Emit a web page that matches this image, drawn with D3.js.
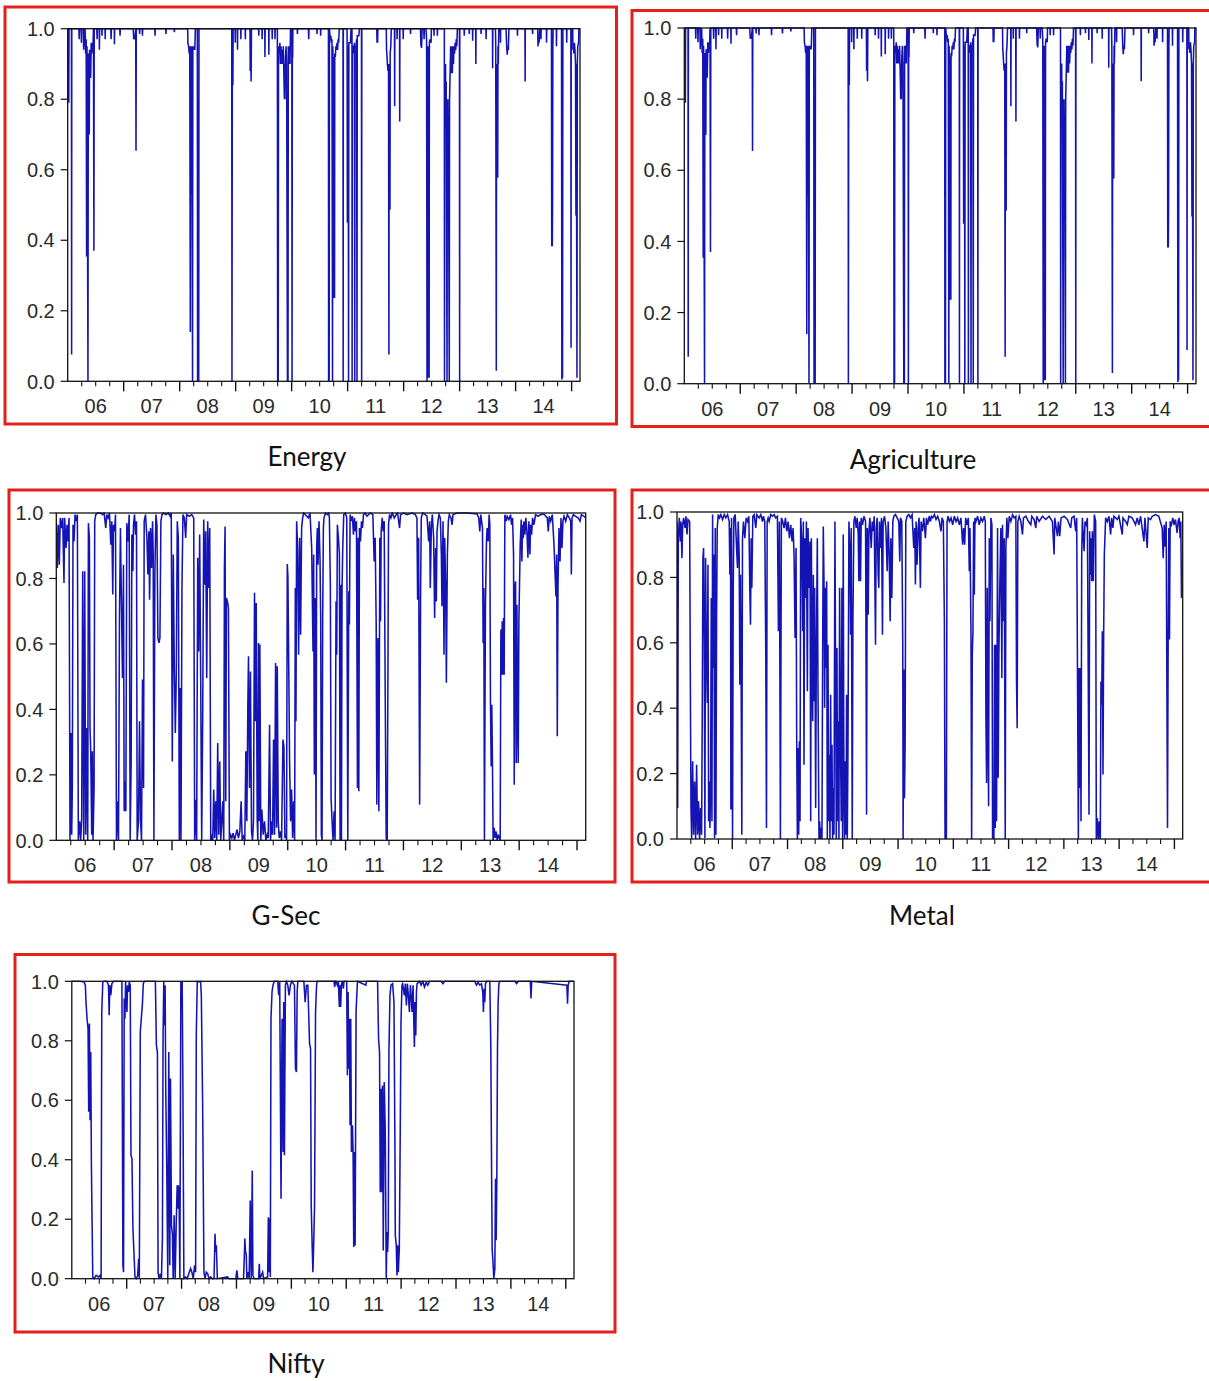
<!DOCTYPE html>
<html><head><meta charset="utf-8">
<script src="https://cdn.jsdelivr.net/npm/d3@7"></script>
<style>body{margin:0;background:#fff}</style>
</head><body><svg id="c" width="1209" height="1381"></svg>
<script>
// ---- data: [decimal year, smoothed probability] ----
const energy = [
[2006.000,1],[2006.010,1],[2006.013,0.79],[2006.016,0.95],[2006.019,0.79],[2006.023,1],
[2006.067,1],[2006.070,0.076],[2006.073,1],
[2006.20,1],[2006.205,0.97],[2006.21,1],[2006.24,1],[2006.245,0.96],[2006.25,1],
[2006.28,1],[2006.285,0.94],[2006.29,1],[2006.30,0.95],[2006.31,1],[2006.32,0.93],[2006.33,0.97],
[2006.338,0.354],[2006.345,0.95],[2006.362,0],[2006.368,0.93],
[2006.376,0.70],[2006.38,0.92],[2006.385,0.70],[2006.39,0.94],
[2006.40,0.86],[2006.405,0.93],[2006.41,0.86],[2006.42,0.96],
[2006.43,0.93],[2006.44,0.96],[2006.45,0.94],[2006.46,1],
[2006.468,0.37],[2006.474,1],[2006.52,1],[2006.525,0.97],[2006.53,1],
[2006.563,1],[2006.566,0.94],[2006.57,1],[2006.61,1],[2006.613,0.98],[2006.616,1],
[2006.667,1],[2006.67,0.97],[2006.673,1],[2006.77,1],[2006.775,0.97],[2006.78,1],
[2006.832,1],[2006.835,0.956],[2006.838,1],[2006.93,1],[2006.935,0.98],[2006.94,1],
[2007.17,1],[2007.18,0.97],[2007.19,0.975],[2007.2,0.97],[2007.215,1],[2007.22,0.654],[2007.225,1],
[2007.28,1],[2007.285,0.985],[2007.29,1],[2007.33,1],[2007.335,0.98],[2007.34,1],
[2007.556,1],[2007.56,0.98],[2007.564,1],[2007.75,1],[2007.755,0.985],[2007.76,1],
[2007.9,1],[2007.905,0.99],[2007.91,1],
[2008.143,1],[2008.147,0.96],[2008.16,0.95],[2008.17,0.93],[2008.18,0.95],
[2008.19,0.14],[2008.195,0.95],[2008.2,0.53],[2008.205,0.9],[2008.21,0.53],[2008.215,0.95],
[2008.23,0],[2008.235,0.95],[2008.25,0.94],[2008.26,0.95],[2008.27,0.94],[2008.28,1],
[2008.315,1],[2008.32,0],[2008.325,0.3],[2008.33,0],[2008.335,0.2],[2008.34,0],[2008.345,1],
[2008.93,1],[2008.934,0],[2008.94,0.84],[2008.945,0.9],[2008.95,0.84],[2008.955,1],
[2008.99,1],[2008.993,0.96],[2008.996,1],[2009.03,1],[2009.033,0.94],[2009.036,1],
[2009.09,1],[2009.093,0.97],[2009.096,1],[2009.17,1],[2009.173,0.97],[2009.176,1],
[2009.256,1],[2009.26,0.88],[2009.265,1],[2009.276,0.85],[2009.282,1],
[2009.41,1],[2009.413,0.98],[2009.416,1],[2009.47,1],[2009.473,0.97],[2009.476,1],
[2009.52,1],[2009.523,0.92],[2009.526,1],[2009.59,1],[2009.593,0.926],[2009.596,1],
[2009.65,1],[2009.653,0.97],[2009.656,1],[2009.70,1],[2009.703,0.97],[2009.706,1],
[2009.745,1],[2009.75,0],[2009.755,0.6],[2009.76,0],[2009.765,0.95],
[2009.78,0.93],[2009.79,0.96],[2009.80,0.9],[2009.81,0.95],[2009.82,0.9],[2009.83,0.94],[2009.84,0.9],[2009.85,0.95],[2009.86,0.88],[2009.87,0.80],[2009.875,0.9],[2009.88,0.80],[2009.89,0.92],[2009.9,0.95],[2009.91,0.9],
[2009.925,0],[2009.93,0.5],[2009.935,0],[2009.94,0.95],[2009.95,0.9],[2009.96,0.95],[2009.97,0.9],[2009.98,1],
[2010.003,1],[2010.007,0],[2010.012,0.92],[2010.018,0.92],[2010.022,1],
[2010.10,1],[2010.103,0.985],[2010.106,1],[2010.30,1],[2010.305,0.97],[2010.31,1],
[2010.45,1],[2010.453,0.985],[2010.456,1],[2010.515,1],[2010.518,0.98],[2010.521,1],
[2010.657,1],[2010.66,0],[2010.665,0.5],[2010.67,0],[2010.675,1],
[2010.69,0.97],[2010.7,0.98],[2010.71,0.96],[2010.72,0.97],
[2010.73,0],[2010.735,0.95],[2010.74,0.9],[2010.75,0.92],[2010.756,0.236],[2010.762,0.92],[2010.766,0.236],[2010.77,0.93],
[2010.78,0.92],[2010.79,0.95],[2010.8,0.94],[2010.81,0.96],[2010.82,0.94],[2010.83,0.97],[2010.84,0.96],[2010.85,1],
[2010.917,1],[2010.92,0],[2010.923,1],
[2010.99,1],[2010.995,0.45],[2011.0,0.9],[2011.005,0.45],[2011.01,0.95],[2011.016,0],[2011.022,0.96],[2011.05,0.96],[2011.06,1],
[2011.077,1],[2011.08,0],[2011.083,0.95],[2011.1,0.95],[2011.11,0.93],[2011.12,0.96],
[2011.127,0],[2011.132,0.95],[2011.15,0.95],[2011.16,0.97],
[2011.167,0],[2011.172,0.98],[2011.2,0.98],[2011.21,1],
[2011.247,1],[2011.25,0],[2011.253,1],
[2011.52,1],[2011.525,0.96],[2011.53,0.97],[2011.535,0.96],[2011.54,1],
[2011.69,1],[2011.695,0.94],[2011.70,0.93],[2011.71,0.90],[2011.72,0.88],[2011.73,0.9],
[2011.737,0.076],[2011.742,0.9],[2011.746,0.487],[2011.752,0.9],[2011.756,0.487],[2011.76,0.93],[2011.77,0.95],[2011.78,1],
[2011.837,1],[2011.84,0.78],[2011.843,1],[2011.88,1],[2011.883,0.97],[2011.886,1],
[2011.927,1],[2011.93,0.737],[2011.933,1],[2011.99,1],[2011.993,0.97],[2011.996,1],
[2012.12,1],[2012.123,0.985],[2012.126,1],
[2012.30,1],[2012.31,0.95],[2012.315,0.97],[2012.32,0.945],[2012.325,0.97],[2012.33,1],
[2012.36,1],[2012.365,0.97],[2012.37,1],
[2012.40,1],[2012.41,0.97],[2012.418,0],[2012.423,0.95],[2012.43,0.01],[2012.435,0.94],[2012.44,0.02],[2012.445,0.95],[2012.455,0.01],[2012.46,0.96],[2012.47,0.97],[2012.49,0.96],[2012.495,1],
[2012.54,1],[2012.543,0.98],[2012.546,1],[2012.60,1],[2012.603,0.98],[2012.606,1],
[2012.727,1],[2012.73,0],[2012.735,0.9],[2012.742,0.747],[2012.748,0.9],[2012.754,0.747],[2012.76,0.85],
[2012.775,0],[2012.78,0.8],[2012.785,0.67],[2012.79,0.8],[2012.795,0.67],[2012.80,0.75],
[2012.815,0],[2012.82,0.8],[2012.83,0.874],[2012.84,0.95],[2012.85,0.874],[2012.86,0.95],[2012.87,0.874],[2012.88,0.95],[2012.89,0.9],[2012.9,0.95],[2012.91,0.93],[2012.92,0.96],[2012.93,0.94],[2012.94,0.97],[2012.95,0.95],[2012.96,1],
[2012.997,1],[2013.0,0],[2013.003,1],
[2013.08,1],[2013.083,0.98],[2013.086,1],[2013.17,1],[2013.173,0.985],[2013.176,1],
[2013.23,1],[2013.233,0.966],[2013.236,1],[2013.287,1],[2013.29,0.9],[2013.293,1],
[2013.38,1],[2013.383,0.985],[2013.386,1],[2013.47,1],[2013.473,0.97],[2013.476,1],
[2013.587,1],[2013.59,0.888],[2013.593,1],
[2013.64,1],[2013.645,0.95],[2013.655,0.03],[2013.66,0.9],[2013.67,0.577],[2013.675,0.9],[2013.68,0.577],[2013.685,0.95],[2013.69,0.9],[2013.7,1],
[2013.727,1],[2013.73,0.96],[2013.733,1],
[2013.83,1],[2013.84,0.95],[2013.85,0.926],[2013.86,0.95],[2013.87,0.94],[2013.88,1],
[2014.03,1],[2014.033,0.98],[2014.036,1],[2014.167,1],[2014.17,0.85],[2014.173,1],
[2014.30,1],[2014.303,0.985],[2014.306,1],
[2014.395,1],[2014.40,0.95],[2014.41,0.97],[2014.42,0.96],[2014.43,1],
[2014.45,1],[2014.453,0.97],[2014.456,1],[2014.55,1],[2014.553,0.96],[2014.556,1],
[2014.64,1],[2014.645,0.383],[2014.65,0.9],[2014.655,0.383],[2014.66,0.5],[2014.665,0.95],[2014.67,1],
[2014.727,1],[2014.73,0.95],[2014.733,1],
[2014.82,1],[2014.826,0.005],[2014.832,0.8],[2014.838,0.01],[2014.844,1],
[2014.91,1],[2014.913,0.96],[2014.916,1],[2014.987,1],[2014.99,0.095],[2014.993,1],
[2015.02,1],[2015.023,0.94],[2015.03,0.96],[2015.04,0.93],[2015.05,0.96],[2015.06,0.94],[2015.07,0.9],
[2015.078,0.47],[2015.084,0.9],[2015.09,0.47],[2015.096,0.01],[2015.102,0.9],[2015.11,0.95],
[2015.125,0.96],[2015.13,1],[2015.15,1]
];

// the Agriculture panel of the source shows the very same trace as Energy
const agriculture = energy;

const gsec = [
[2006.000,0.975],[2006.017,0.832],[2006.035,0.964],[2006.052,0.842],[2006.069,0.985],[2006.092,0.954],[2006.11,0.985],
[2006.133,0.786],[2006.144,0.985],[2006.168,0.893],[2006.185,0.964],[2006.202,0.913],[2006.22,0.985],[2006.237,0],
[2006.254,0.328],[2006.266,0.017],[2006.277,0.16],[2006.289,0.964],[2006.306,0.913],[2006.324,0.995],[2006.347,0.975],
[2006.364,0.995],[2006.381,0],[2006.404,0.058],[2006.422,0],[2006.439,0.068],[2006.456,0.822],[2006.474,0],
[2006.491,0.822],[2006.508,0.017],[2006.526,0.343],[2006.543,0],[2006.555,0.969],[2006.572,0.924],[2006.583,0.343],
[2006.595,0.272],[2006.612,0.017],[2006.624,0.272],[2006.635,0],[2006.653,0.16],[2006.664,0.975],[2006.682,0.995],
[2006.711,1],[2006.768,1],[2006.797,0.995],[2006.826,1],[2006.855,0.954],[2006.872,0.995],[2006.895,0.985],[2006.919,1],
[2006.942,0.903],[2006.959,0.975],[2006.976,0.751],[2006.988,0.964],[2007.005,0.944],[2007.023,0.995],[2007.04,0],
[2007.057,0.119],[2007.075,0],[2007.092,0.689],[2007.109,0.954],[2007.127,0.71],[2007.144,0.496],[2007.161,0.842],
[2007.173,0.089],[2007.19,0.18],[2007.202,0.089],[2007.219,0.969],[2007.242,0.913],[2007.259,0.995],[2007.277,0],
[2007.294,0.241],[2007.306,0.934],[2007.323,0.822],[2007.334,0.964],[2007.352,0.995],[2007.369,0.934],[2007.386,0.975],
[2007.398,0],[2007.421,0.058],[2007.438,0.364],[2007.456,0.058],[2007.473,0],[2007.49,0.491],[2007.508,0.16],
[2007.519,0.975],[2007.542,0.995],[2007.566,0.924],[2007.583,0.812],[2007.6,0.944],[2007.612,0.735],[2007.629,0.954],
[2007.646,0.832],[2007.664,0.975],[2007.675,0.873],[2007.687,0],[2007.704,0.822],[2007.722,0.995],[2007.739,0.964],
[2007.756,0.618],[2007.774,0.603],[2007.791,0.618],[2007.808,0.975],[2007.826,0.995],[2007.854,1],[2007.895,0.995],
[2007.935,1],[2007.97,0.99],[2007.987,1],[2008.005,0.241],[2008.022,0.873],[2008.039,0.537],[2008.057,0.328],
[2008.074,0.506],[2008.091,0.975],[2008.109,0.924],[2008.126,0],[2008.143,0.465],[2008.155,0],[2008.172,0.771],
[2008.189,0.995],[2008.213,0.985],[2008.236,0.924],[2008.253,0.995],[2008.299,0.99],[2008.34,0.995],[2008.375,0.985],
[2008.392,0],[2008.409,0.124],[2008.426,0],[2008.444,0.863],[2008.461,0.577],[2008.478,0.934],[2008.496,0.486],
[2008.513,0],[2008.53,0.364],[2008.548,0.98],[2008.565,0.781],[2008.582,0.944],[2008.6,0.496],[2008.617,0.975],
[2008.634,0.771],[2008.652,0.954],[2008.669,0],[2008.686,0.017],[2008.704,0],[2008.721,0.155],[2008.738,0.007],
[2008.756,0.119],[2008.773,0],[2008.79,0.297],[2008.808,0.017],[2008.825,0.241],[2008.842,0],[2008.86,0.058],
[2008.877,0.119],[2008.894,0],[2008.906,0.832],[2008.917,0.959],[2008.929,0.119],[2008.94,0.74],[2008.958,0.73],
[2008.975,0.71],[2008.992,0],[2009.01,0.017],[2009.033,0.007],[2009.056,0.022],[2009.079,0],[2009.102,0.017],
[2009.125,0.033],[2009.148,0.007],[2009.172,0.027],[2009.195,0.119],[2009.212,0],[2009.235,0.012],[2009.258,0],
[2009.276,0.272],[2009.293,0.058],[2009.31,0.404],[2009.322,0.562],[2009.339,0.16],[2009.356,0.516],[2009.374,0.027],
[2009.391,0],[2009.408,0.058],[2009.426,0.756],[2009.443,0.364],[2009.455,0.725],[2009.472,0.068],[2009.483,0],
[2009.495,0.603],[2009.506,0.058],[2009.518,0.598],[2009.535,0],[2009.553,0.094],[2009.576,0.017],[2009.599,0.058],
[2009.622,0],[2009.645,0.017],[2009.663,0.007],[2009.686,0.353],[2009.703,0],[2009.72,0.058],[2009.738,0.017],
[2009.755,0.308],[2009.772,0.017],[2009.79,0.542],[2009.807,0.038],[2009.819,0.532],[2009.836,0.058],[2009.853,0.007],
[2009.876,0.027],[2009.894,0],[2009.917,0.308],[2009.934,0.287],[2009.951,0.007],[2009.969,0.017],[2009.98,0],
[2009.992,0.844],[2010.003,0.807],[2010.021,0.465],[2010.032,0.241],[2010.049,0.058],[2010.067,0.155],[2010.084,0.007],
[2010.102,0.119],[2010.119,0],[2010.131,0.771],[2010.142,0.364],[2010.154,0.975],[2010.171,0.893],[2010.188,0.567],
[2010.206,0.924],[2010.223,0.628],[2010.24,0.954],[2010.258,0.985],[2010.275,1],
[2010.356,0.985],[2010.385,1],[2010.414,0.893],[2010.425,0.745],[2010.437,0.577],[2010.448,0.873],[2010.460,0.201],
[2010.477,0.74],[2010.489,0],[2010.500,0.893],[2010.512,0.954],[2010.523,0.842],[2010.541,0.975],[2010.558,0.857],
[2010.570,0.669],[2010.581,0.017],[2010.593,0],[2010.604,0.669],[2010.616,0.954],[2010.627,0.985],[2010.651,1],
[2010.685,0.995],[2010.708,1],[2010.720,0.985],[2010.737,0.771],[2010.749,0.129],[2010.766,0.058],[2010.783,0],
[2010.801,0.089],[2010.818,0],[2010.835,0.73],[2010.847,0.567],[2010.858,0.964],[2010.876,0.924],[2010.893,0.873],
[2010.905,0],[2010.916,0.781],[2010.928,0],[2010.939,0.771],[2010.951,0.893],[2010.968,0.995],[2010.997,1],
[2011.020,0.985],[2011.038,0],[2011.055,0.761],[2011.066,0.659],[2011.078,0.995],[2011.101,0.975],[2011.118,0.99],
[2011.136,0.934],[2011.153,0.985],[2011.170,0.944],[2011.188,0.975],[2011.205,0.16],[2011.217,0.924],[2011.228,0.15],
[2011.240,0.954],[2011.257,0.913],[2011.275,0.975],[2011.292,0.954],[2011.309,0.995],[2011.338,1],[2011.367,0.99],
[2011.425,1],[2011.471,0.995],[2011.494,0.852],[2011.511,0.924],[2011.529,0.659],[2011.540,0.109],[2011.558,0.618],
[2011.575,0.089],[2011.592,0.924],[2011.604,0.669],[2011.615,0.944],[2011.633,0.985],[2011.650,0.944],[2011.667,0.975],
[2011.685,0.445],[2011.702,0.007],[2011.719,0],[2011.731,0.465],[2011.742,0.964],[2011.760,0.995],[2011.783,0.985],
[2011.806,1],[2011.841,0.985],[2011.875,0.995],[2011.898,1],[2011.933,0.954],[2011.950,0.995],[2012.002,1],
[2012.060,0.995],[2012.147,1],[2012.205,0.995],[2012.233,0.985],[2012.245,0.735],[2012.262,0.924],[2012.280,0.109],
[2012.297,0.771],[2012.308,0.985],[2012.331,1],[2012.378,0.995],[2012.407,0.99],[2012.436,0.913],[2012.453,0.975],
[2012.464,0.771],[2012.482,0.954],[2012.499,0.995],[2012.522,0.924],[2012.539,0.679],[2012.557,0.893],[2012.568,0.73],
[2012.580,0.944],[2012.597,0.975],[2012.614,0.995],[2012.638,0.985],[2012.655,0.873],[2012.666,0.715],[2012.684,0.975],
[2012.701,0.567],[2012.713,0.924],[2012.730,0.771],[2012.742,0.481],[2012.759,0.873],[2012.776,0.975],[2012.793,0.995],
[2012.822,0.985],[2012.840,0.964],[2012.857,0.995],[2012.926,1],[2013.100,1],[2013.273,0.997],[2013.302,0.985],
[2013.319,0.944],[2013.337,0.995],[2013.366,0.954],[2013.377,0.603],[2013.389,0.771],[2013.400,0],[2013.417,0.72],
[2013.435,0.913],[2013.446,0.954],[2013.464,0.913],[2013.481,0.995],[2013.493,0.964],[2013.504,0.425],[2013.516,0.226],
[2013.527,0.414],[2013.539,0.226],[2013.550,0],[2013.568,0.038],[2013.585,0.007],[2013.603,0.027],[2013.620,0],
[2013.637,0.017],[2013.655,0.007],[2013.672,0],[2013.684,0.644],[2013.695,0.506],[2013.707,0.669],[2013.718,0.506],
[2013.730,0.679],[2013.741,0.506],[2013.753,0.995],[2013.776,0.975],[2013.793,0.99],[2013.822,0.98],[2013.851,0.995],
[2013.868,0.964],[2013.886,0.985],[2013.903,0.873],[2013.915,0.17],[2013.926,0.771],[2013.938,0.791],[2013.949,0.236],
[2013.961,0.72],[2013.972,0.364],[2013.984,0.236],[2013.995,0.669],[2014.007,0.791],[2014.018,0.903],[2014.036,0.98],
[2014.047,0.852],[2014.059,0.964],[2014.070,0.924],[2014.082,0.975],[2014.099,0.934],[2014.116,0.985],[2014.134,0.944],
[2014.151,0.863],[2014.168,0.975],[2014.186,0.873],[2014.197,0.964],[2014.215,0.934],[2014.232,0.985],[2014.255,0.964],
[2014.284,0.995],[2014.325,0.99],[2014.370,0.995],[2014.428,0.997],[2014.486,0.985],[2014.503,0.944],[2014.521,0.99],
[2014.544,0.975],[2014.573,0.995],[2014.602,0.903],[2014.619,0.822],[2014.636,0.745],[2014.648,0.873],[2014.659,0.318],
[2014.671,0.771],[2014.688,0.954],[2014.706,0.852],[2014.723,0.985],[2014.740,0.893],[2014.757,0.975],[2014.775,0.99],
[2014.804,0.975],[2014.833,0.995],[2014.867,0.985],[2014.891,0.975],[2014.902,0.812],[2014.914,0.985],[2014.937,0.995],
[2014.977,0.99],[2015.018,0.985],[2015.052,0.975],[2015.075,0.995],[2015.122,0.99],[2015.15,0.985]
];

const metal = [
[2006.000,0.971],[2006.012,0.095],[2006.024,0.92],[2006.042,0.982],[2006.060,0.91],[2006.072,0.971],[2006.090,0.859],
[2006.102,0.961],[2006.120,0.982],[2006.144,0.951],[2006.162,0.987],[2006.181,0.931],[2006.199,0.977],[2006.229,0.971],
[2006.241,0.497],[2006.253,0.095],[2006.265,0],[2006.283,0.238],[2006.301,0.013],[2006.319,0.176],[2006.337,0],
[2006.355,0.227],[2006.373,0.013],[2006.391,0.115],[2006.409,0],[2006.427,0.095],[2006.445,0.013],[2006.457,0.38],
[2006.469,0.859],[2006.481,0.89],[2006.493,0.604],[2006.505,0.003],[2006.517,0.859],[2006.529,0.604],[2006.548,0.416],
[2006.560,0.839],[2006.572,0.054],[2006.584,0.176],[2006.596,0.034],[2006.608,0.156],[2006.620,0.737],[2006.632,0.054],
[2006.644,0.992],[2006.656,0.523],[2006.668,0.87],[2006.680,0.003],[2006.692,0.951],[2006.704,0.013],[2006.716,0.666],
[2006.728,0.951],[2006.746,0.992],[2006.770,0.982],[2006.794,0.992],[2006.824,0.977],[2006.854,0.992],[2006.884,0.982],
[2006.915,0.992],[2006.945,0.971],[2006.957,0.808],[2006.969,0.951],[2006.975,0.09],[2006.987,0.982],[2007.005,0],
[2007.017,0.747],[2007.029,0.982],[2007.053,0.992],[2007.083,0.87],[2007.095,0.829],[2007.107,0.971],[2007.125,0.87],
[2007.137,0.472],[2007.149,0.808],[2007.161,0.472],[2007.173,0.013],[2007.185,0.92],[2007.203,0.971],[2007.227,0.92],
[2007.252,0.982],[2007.276,0.971],[2007.300,0.987],[2007.318,0.757],[2007.330,0.655],[2007.342,0.92],[2007.354,0.768],
[2007.372,0.987],[2007.396,0.992],[2007.426,0.951],[2007.444,0.992],[2007.486,0.982],[2007.516,0.992],[2007.546,0.971],
[2007.564,0.987],[2007.588,0.971],[2007.606,0.569],[2007.619,0.034],[2007.631,0.971],[2007.649,0.982],[2007.667,0.971],
[2007.697,0.992],[2007.727,0.987],[2007.757,0.992],[2007.787,0.982],[2007.817,0.987],[2007.835,0.635],[2007.853,0.971],
[2007.871,0],[2007.889,0.982],[2007.913,0.971],[2007.937,0.951],[2007.962,0.982],[2007.986,0.941],[2008.010,0.971],
[2008.034,0.92],[2008.058,0.961],[2008.082,0.91],[2008.100,0.951],[2008.118,0.87],[2008.136,0.615],[2008.154,0.89],
[2008.166,0.299],[2008.178,0],[2008.190,0.278],[2008.202,0.013],[2008.214,0.299],[2008.226,0.054],[2008.238,0.982],
[2008.256,0.92],[2008.274,0.635],[2008.286,0.971],[2008.298,0.227],[2008.310,0.92],[2008.329,0.737],[2008.341,0.971],
[2008.359,0.452],[2008.371,0.951],[2008.389,0.768],[2008.407,0.91],[2008.419,0.054],[2008.431,0.92],[2008.443,0.564],
[2008.455,0.36],[2008.467,0.808],[2008.479,0.421],[2008.491,0.768],[2008.509,0.095],[2008.521,0.564],[2008.539,0.92],
[2008.551,0.462],[2008.569,0],[2008.581,0.054],[2008.593,0],[2008.605,0.034],[2008.623,0],[2008.635,0.564],
[2008.647,0.956],[2008.659,0.798],[2008.671,0.401],[2008.684,0.768],[2008.696,0.523],[2008.708,0.788],[2008.720,0],
[2008.732,0.594],[2008.744,0.054],[2008.756,0.258],[2008.768,0],[2008.780,0.441],[2008.792,0.054],[2008.804,0.288],
[2008.816,0],[2008.828,0.156],[2008.840,0.013],[2008.858,0.971],[2008.870,0.482],[2008.882,0],[2008.894,0.584],
[2008.906,0.054],[2008.918,0.36],[2008.930,0],[2008.942,0.768],[2008.960,0.258],[2008.972,0.054],[2008.984,0.768],
[2008.996,0],[2009.008,0.931],[2009.020,0.156],[2009.032,0],[2009.045,0.238],[2009.057,0.013],[2009.069,0.441],
[2009.081,0],[2009.093,0.258],[2009.111,0.971],[2009.129,0.87],[2009.141,0.625],[2009.153,0.951],[2009.171,0],
[2009.183,0.666],[2009.201,0.971],[2009.219,0.987],[2009.243,0.951],[2009.261,0.982],[2009.279,0.931],[2009.291,0.788],
[2009.303,0.971],[2009.321,0.788],[2009.333,0.982],[2009.357,0.961],[2009.382,0.987],[2009.412,0.971],[2009.430,0.074],
[2009.442,0.951],[2009.460,0.686],[2009.472,0.941],[2009.490,0.982],[2009.514,0.89],[2009.532,0.971],[2009.550,0.941],
[2009.568,0.987],[2009.592,0.594],[2009.604,0.951],[2009.622,0.982],[2009.640,0.808],[2009.652,0.768],[2009.664,0.971],
[2009.682,0.89],[2009.700,0.982],[2009.718,0.625],[2009.730,0.971],[2009.755,0.987],[2009.779,0.951],[2009.803,0.819],
[2009.821,0.971],[2009.839,0.87],[2009.857,0.666],[2009.869,0.92],[2009.887,0.737],[2009.905,0.971],[2009.923,0.987],
[2009.953,0.992],[2009.983,0.982],[2010.013,0.971],[2010.031,0.849],[2010.043,0.982],[2010.067,0.971],[2010.085,0.594],
[2010.091,0],[2010.104,0.518],[2010.116,0.125],[2010.128,0.288],[2010.140,0.971],[2010.164,0.987],[2010.194,0.992],
[2010.224,0.982],[2010.254,0.992],[2010.284,0.89],[2010.302,0.951],[2010.314,0.778],[2010.326,0.971],[2010.344,0.839],
[2010.362,0.951],[2010.380,0.982],[2010.404,0.768],[2010.416,0.971],[2010.440,0.941],[2010.465,0.982],[2010.495,0.92],
[2010.513,0.982],[2010.537,0.961],[2010.561,0.987],[2010.585,0.971],[2010.603,0.987],[2010.627,0.982],[2010.657,0.992],
[2010.687,0.977],[2010.717,0.987],[2010.747,0.971],[2010.777,0.941],[2010.795,0.982],[2010.819,0.971],[2010.838,0.666],
[2010.850,0],[2010.862,0.054],[2010.874,0],[2010.886,0.971],[2010.904,0.987],[2010.928,0.971],[2010.958,0.982],
[2010.988,0.961],[2011.018,0.987],[2011.048,0.971],[2011.078,0.982],[2011.108,0.961],[2011.138,0.982],[2011.168,0.9],
[2011.186,0.951],[2011.205,0.9],[2011.223,0.982],[2011.247,0.961],[2011.271,0.982],[2011.289,0.819],[2011.301,0.951],
[2011.319,0.635],[2011.331,0],[2011.343,0.564],[2011.355,0.635],[2011.367,0.971],[2011.379,0.747],[2011.391,0.982],
[2011.409,0.971],[2011.439,0.987],[2011.469,0.961],[2011.499,0.982],[2011.529,0.971],[2011.560,0.987],[2011.578,0.971],
[2011.590,0.36],[2011.602,0.171],[2011.614,0.768],[2011.626,0.36],[2011.638,0.1],[2011.650,0.92],[2011.662,0.666],
[2011.680,0.982],[2011.698,0.961],[2011.710,0],[2011.722,0.054],[2011.734,0],[2011.746,0.594],[2011.758,0.034],
[2011.770,0.594],[2011.782,0.054],[2011.800,0.951],[2011.812,0.187],[2011.824,0.564],[2011.842,0.788],[2011.860,0.951],
[2011.878,0.492],[2011.890,0.961],[2011.902,0.666],[2011.921,0.92],[2011.939,0],[2011.951,0.89],[2011.969,0.982],
[2011.987,0.92],[2012.011,0.987],[2012.041,0.971],[2012.071,0.992],[2012.101,0.982],[2012.131,0.987],[2012.143,0.487],
[2012.155,0.339],[2012.167,0.971],[2012.191,0.987],[2012.221,0.971],[2012.251,0.931],[2012.269,0.982],[2012.312,0.987],
[2012.360,0.971],[2012.402,0.961],[2012.420,0.987],[2012.462,0.977],[2012.492,0.951],[2012.510,0.987],[2012.552,0.971],
[2012.613,0.987],[2012.673,0.977],[2012.733,0.987],[2012.793,0.971],[2012.823,0.87],[2012.835,0.982],[2012.883,0.926],
[2012.901,0.971],[2012.925,0.926],[2012.949,0.982],[2013.004,0.987],[2013.064,0.977],[2013.124,0.951],[2013.142,0.982],
[2013.184,0.987],[2013.214,0.941],[2013.232,0.982],[2013.262,0],[2013.274,0.523],[2013.286,0.156],[2013.298,0.523],
[2013.310,0.054],[2013.323,0.87],[2013.335,0.982],[2013.365,0.88],[2013.383,0.971],[2013.407,0.961],[2013.425,0.982],
[2013.455,0.074],[2013.467,0.941],[2013.479,0.808],[2013.491,0.92],[2013.503,0.788],[2013.515,0.941],[2013.533,0.788],
[2013.551,0.992],[2013.575,0.971],[2013.587,0],[2013.605,0.064],[2013.623,0],[2013.641,0.054],[2013.659,0],
[2013.671,0.482],[2013.684,0.411],[2013.696,0.635],[2013.708,0.197],[2013.720,0.625],[2013.732,0.87],[2013.756,0.982],
[2013.786,0.971],[2013.816,0.987],[2013.846,0.931],[2013.864,0.982],[2013.888,0.951],[2013.906,0.987],[2013.966,0.977],
[2013.996,0.987],[2014.057,0.931],[2014.069,0.982],[2014.117,0.971],[2014.147,0.961],[2014.177,0.987],[2014.237,0.982],
[2014.297,0.961],[2014.327,0.982],[2014.357,0.961],[2014.388,0.987],[2014.448,0.91],[2014.466,0.982],[2014.508,0.89],
[2014.526,0.982],[2014.568,0.977],[2014.598,0.987],[2014.658,0.992],[2014.718,0.987],[2014.779,0.951],[2014.797,0.859],
[2014.815,0.961],[2014.833,0.894],[2014.851,0.971],[2014.875,0.034],[2014.887,0.61],[2014.899,0.951],[2014.911,0.61],
[2014.923,0.971],[2014.947,0.961],[2014.971,0.982],[2014.995,0.961],[2015.019,0.977],[2015.049,0.936],[2015.067,0.971],
[2015.086,0.982],[2015.104,0.92],[2015.116,0.971],[2015.128,0.737]
];

const nifty = [
[2006.000,1],[2006.150,1],[2006.223,0.998],[2006.247,0.987],[2006.259,0.93],[2006.278,0.874],[2006.296,0.841],
[2006.308,0.561],[2006.321,0.858],[2006.333,0.533],[2006.345,0.762],[2006.357,0.381],[2006.369,0.202],[2006.382,0.006],
[2006.406,0],[2006.443,0.011],[2006.485,0.006],[2006.516,0.011],[2006.534,0],[2006.546,0.897],[2006.565,0.998],
[2006.589,1],[2006.638,1],[2006.668,0.987],[2006.681,0.886],[2006.693,0.987],[2006.711,0.953],[2006.730,0.992],
[2006.760,1],[2006.913,1],[2006.931,0.045],[2006.943,0.022],[2006.955,0.942],[2006.968,0.874],[2006.980,0.998],
[2007.004,0.897],[2007.016,0.987],[2007.034,0.964],[2007.047,0.998],[2007.065,0.987],[2007.078,0.415],[2007.096,0.404],
[2007.114,0.168],[2007.132,0.09],[2007.151,0.006],[2007.175,0],[2007.200,0.011],[2007.218,0.067],[2007.230,0],
[2007.248,0.83],[2007.266,0.874],[2007.285,0.919],[2007.303,0.992],[2007.322,1],[2007.523,1],[2007.541,0.785],
[2007.560,0.762],[2007.572,0.022],[2007.590,0],[2007.615,0.017],[2007.633,0],[2007.651,0.135],[2007.663,0.818],
[2007.676,1],[2007.688,0.852],[2007.700,0.987],[2007.712,0.628],[2007.731,0.359],[2007.749,0],[2007.767,0.762],
[2007.786,0.045],[2007.798,0.673],[2007.816,0.179],[2007.834,0.146],[2007.847,0],[2007.865,0.213],[2007.883,0],
[2007.902,0.179],[2007.920,0.314],[2007.932,0.235],[2007.944,0.314],[2007.957,0.235],[2007.969,0],[2007.987,1],
[2007.999,0.953],[2008.011,0.998],[2008.024,0.65],[2008.042,0],[2008.073,0.006],[2008.103,0],[2008.140,0.022],
[2008.164,0.034],[2008.188,0.022],[2008.213,0],[2008.237,0.045],[2008.256,0.022],[2008.268,0.818],[2008.286,1],
[2008.317,0.998],[2008.347,1],[2008.360,0.953],[2008.384,0.583],[2008.408,0.022],[2008.427,0],[2008.451,0.022],
[2008.475,0.017],[2008.500,0],[2008.530,0.006],[2008.561,0],[2008.591,0],[2008.610,0.151],[2008.622,0.09],
[2008.634,0.112],[2008.652,0],[2008.836,0.006],[2008.866,0],[2008.988,0],[2009.007,0.028],[2009.025,0],[2009.129,0],
[2009.141,0.062],[2009.153,0.135],[2009.165,0.09],[2009.178,0.084],[2009.190,0],[2009.214,0.022],[2009.232,0],
[2009.251,0.263],[2009.269,0],[2009.288,0.364],[2009.300,0.011],[2009.324,0],[2009.404,0],[2009.416,0.05],
[2009.428,0],[2009.477,0.022],[2009.495,0],[2009.568,0.006],[2009.581,0.207],[2009.593,0.022],[2009.605,0.202],
[2009.617,0.006],[2009.629,0.874],[2009.648,0.964],[2009.666,0.987],[2009.690,1],[2009.751,1],[2009.770,0.953],
[2009.788,1],[2009.812,0.269],[2009.831,0.874],[2009.849,0.426],[2009.861,0.93],[2009.874,0.415],[2009.892,0.987],
[2009.910,1],[2009.935,0.987],[2009.959,0.953],[2009.983,0.987],[2010.008,1],[2010.057,0.987],[2010.075,0.706],
[2010.093,0.695],[2010.106,0.964],[2010.118,1],[2010.228,1],[2010.252,0.93],[2010.276,0.987],
[2010.301,0.987],[2010.332,0.79],[2010.350,0.774],[2010.362,0.247],[2010.380,0.107],[2010.393,0.022],[2010.405,0.101],
[2010.423,0.247],[2010.441,0.897],[2010.460,0.987],[2010.472,1],[2010.777,1],[2010.789,0.981],[2010.808,1],
[2010.838,0.987],[2010.856,1],[2010.875,0.914],[2010.887,0.987],[2010.899,0.914],[2010.911,0.987],[2010.930,1],
[2010.948,0.975],[2010.960,1],[2011.009,1],[2011.021,0.684],[2011.034,0.964],[2011.046,0.706],[2011.058,0.874],
[2011.070,0.516],[2011.082,0.874],[2011.095,0.426],[2011.113,0.516],[2011.125,0.426],[2011.137,0.107],[2011.150,0.426],
[2011.162,0.112],[2011.180,0.902],[2011.205,1],[2011.357,0.987],[2011.369,1],[2011.571,1],[2011.589,0.807],
[2011.607,0.762],[2011.620,0.291],[2011.638,0.639],[2011.650,0.291],[2011.662,0.65],[2011.675,0.095],[2011.693,0.661],
[2011.711,0.493],[2011.729,0],[2011.742,0.157],[2011.754,0.09],[2011.766,0.157],[2011.778,0.762],[2011.797,0.953],
[2011.815,0.987],[2011.845,0.992],[2011.870,0.93],[2011.888,0.426],[2011.894,0.146],[2011.912,0.112],[2011.925,0.011],
[2011.937,0.112],[2011.949,0.022],[2011.967,0.101],[2011.986,0.538],[2011.998,0.863],[2012.016,0.987],[2012.028,0.992],
[2012.059,0.953],[2012.077,0.992],[2012.096,0.919],[2012.114,0.992],[2012.132,0.953],[2012.151,0.897],[2012.169,0.987],
[2012.187,0.942],[2012.199,0.897],[2012.218,0.987],[2012.230,0.874],[2012.242,0.779],[2012.254,0.93],[2012.267,0.818],
[2012.279,0.964],[2012.291,0.992],[2012.334,1],[2012.364,0.987],[2012.395,1],[2012.425,0.981],[2012.456,0.996],
[2012.486,0.987],[2012.517,1],[2012.731,1],[2012.761,0.992],[2012.792,1],[2013.341,1],[2013.372,0.987],[2013.402,0.996],
[2013.433,0.987],[2013.463,0.992],[2013.488,0.964],[2013.500,0.897],[2013.512,0.975],[2013.524,0.93],[2013.537,0.992],
[2013.561,1],[2013.616,1],[2013.634,0.785],[2013.646,0.426],[2013.659,0.101],[2013.677,0.045],[2013.689,0],
[2013.708,0.034],[2013.720,0.336],[2013.732,0.129],[2013.744,0.336],[2013.756,0.774],[2013.768,0.93],[2013.781,0.992],
[2013.799,1],[2014.074,1],[2014.104,0.992],[2014.135,1],[2014.354,1],[2014.367,0.942],[2014.379,1],[2015.020,0.987],
[2015.032,0.925],[2015.044,0.987],[2015.063,1],[2015.15,1]
];

const captions = ["Energy", "Agriculture", "G-Sec", "Metal", "Nifty"];
const yearLabels = ["06","07","08","09","10","11","12","13","14"];
const firstYear = 2006;
const yTickValues = [0, 0.2, 0.4, 0.6, 0.8, 1.0];

// ---- layout (positions only) ----
const layout = [
  {data: energy,      box:[5,7,611.5,417],   l:67.7,  t:28.7,  r:580,    b:381.3,  cx:307, cy:466},
  {data: agriculture, box:[632,10.5,600,416], l:684.3, t:28,    r:1196,   b:383.7,  cx:913, cy:469},
  {data: gsec,        box:[9,490,606,392],   l:56.3,  t:513,   r:585.7,  b:840.3,  cx:286, cy:925},
  {data: metal,       box:[632,490,600,392], l:677,   t:512,   r:1182.7, b:839,    cx:922, cy:925},
  {data: nifty,       box:[15,954.5,600,377.5], l:71.8, t:981.3, r:574,    b:1278.7, cx:296, cy:1373}
];

const svg = d3.select("#c");
const tickFont = "'Liberation Sans Narrow','Arial Narrow','Liberation Sans',Arial,sans-serif";

layout.forEach((p, i) => {
  const g = svg.append("g");
  // red frame
  g.append("rect").attr("x", p.box[0]).attr("y", p.box[1]).attr("width", p.box[2]).attr("height", p.box[3])
    .attr("fill", "#fff").attr("stroke", "#e3201b").attr("stroke-width", 3);

  const x = d3.scaleLinear().domain([firstYear, firstYear + 9.15]).range([p.l, p.r]);
  const y = d3.scaleLinear().domain([0, 1]).range([p.b, p.t]);

  const clipId = "clip" + i;
  g.append("clipPath").attr("id", clipId).append("rect")
    .attr("x", p.l).attr("y", p.t - 1).attr("width", p.r - p.l).attr("height", p.b - p.t + 2);

  // data line
  const line = d3.line().x(d => x(d[0])).y(d => y(d[1]));
  g.append("path").datum(p.data).attr("clip-path", `url(#${clipId})`)
    .attr("d", line).attr("fill", "none").attr("stroke", "#1414b4")
    .attr("stroke-width", 1.55).attr("stroke-linejoin", "miter");

  // plot frame
  g.append("rect").attr("x", p.l).attr("y", p.t).attr("width", p.r - p.l).attr("height", p.b - p.t)
    .attr("fill", "none").attr("stroke", "#111").attr("stroke-width", 1.3);

  // y ticks and labels
  yTickValues.forEach(v => {
    g.append("line").attr("x1", p.l - 7).attr("x2", p.l).attr("y1", y(v)).attr("y2", y(v))
      .attr("stroke", "#111").attr("stroke-width", 1.2);
    g.append("text").attr("x", p.l - 13).attr("y", y(v)).attr("dy", "0.36em")
      .attr("text-anchor", "end").attr("font-family", tickFont).attr("font-size", 20)
      .attr("fill", "#2a2a2a").text(v.toFixed(1));
  });

  // x ticks: quarters (short), years (long)
  const quarterTicks = d3.range(0, 37).map(k => firstYear + k * 0.25).filter(t => t > firstYear && t < firstYear + 9.15);
  quarterTicks.forEach(t => {
    const major = Math.abs(t - Math.round(t)) < 1e-6;
    g.append("line").attr("x1", x(t)).attr("x2", x(t)).attr("y1", p.b).attr("y2", p.b + (major ? 10 : 5))
      .attr("stroke", "#111").attr("stroke-width", major ? 1.4 : 1.1);
  });
  yearLabels.forEach((lab, k) => {
    g.append("text").attr("x", x(firstYear + k + 0.5)).attr("y", p.b + 32)
      .attr("text-anchor", "middle").attr("font-family", tickFont).attr("font-size", 20)
      .attr("fill", "#2a2a2a").text(lab);
  });

  // caption
  svg.append("text").attr("x", p.cx).attr("y", p.cy).attr("text-anchor", "middle")
    .attr("font-family", "Lato, 'Open Sans', sans-serif").attr("font-size", 26)
    .attr("fill", "#111").text(captions[i]);
});
</script>
</body></html>
